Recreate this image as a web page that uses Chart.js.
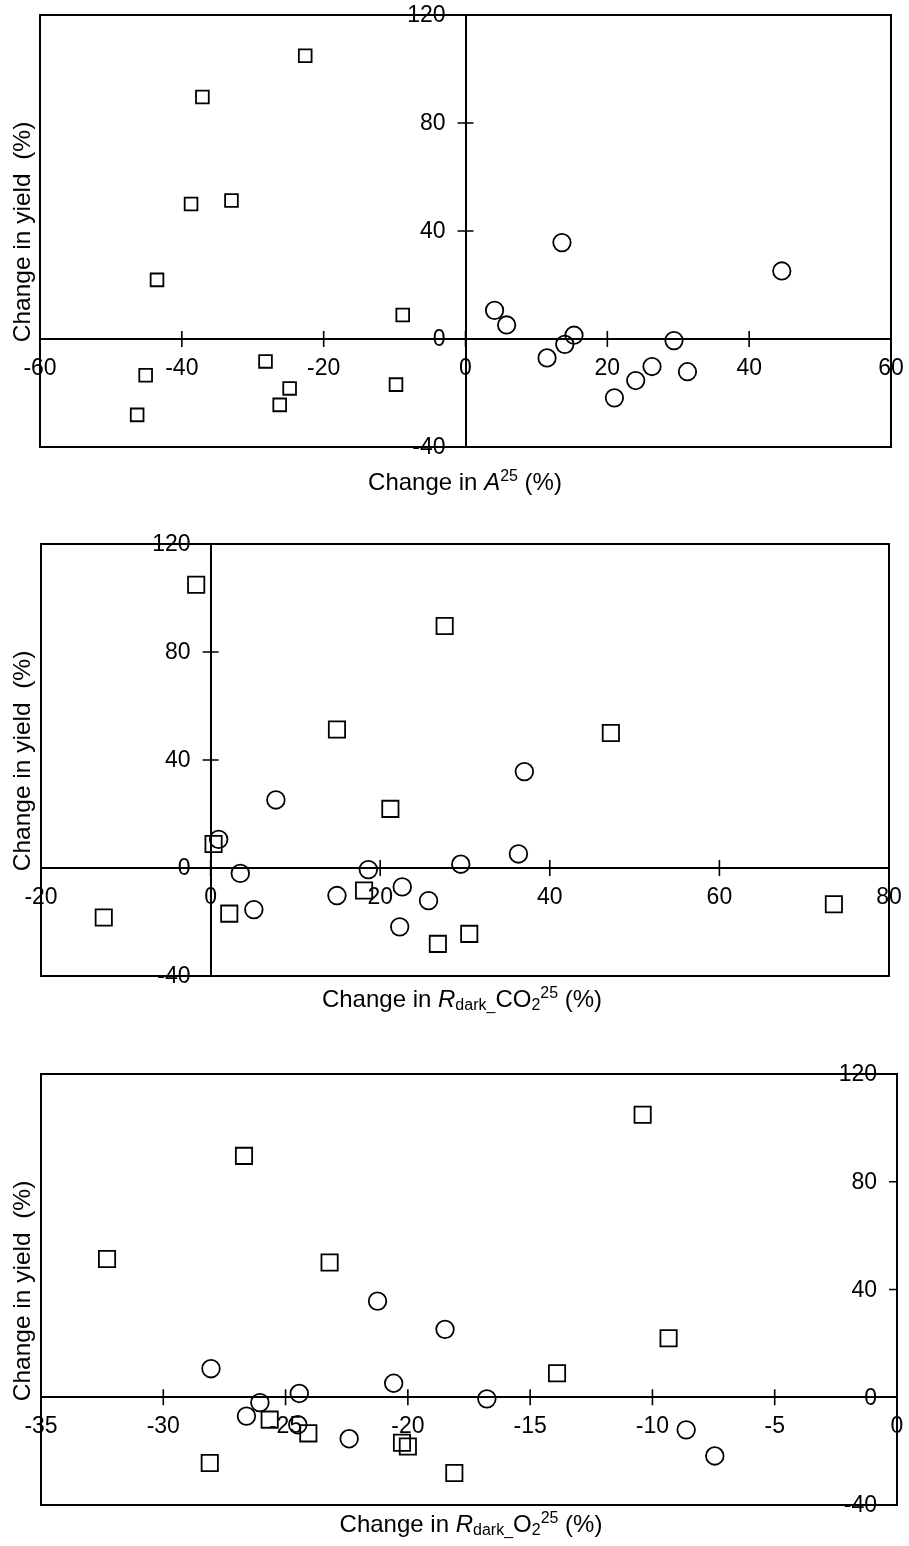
<!DOCTYPE html>
<html>
<head>
<meta charset="utf-8">
<script src="https://cdn.jsdelivr.net/npm/chart.js@4"></script>
<style>
  body { margin: 0; background: #fff; overflow: hidden; }
  #wrap { position: relative; width: 909px; height: 1546px; overflow: hidden; font-family: "Liberation Sans", Arial, sans-serif; color: #000; }
  canvas { position: absolute; left: 0; }
  .ytitle { position: absolute; left: 22px; font-size: 24.5px; white-space: pre; transform: translate(-50%, -50%) rotate(-90deg); }
  .xtitle { position: absolute; font-size: 24px; line-height: 1; white-space: nowrap; transform: translateX(-50%); }
  .xtitle sub { font-size: 16px; vertical-align: -3px; }
  .xtitle sup { font-size: 16px; vertical-align: 9px; }
</style>
</head>
<body>
<div id="wrap">
  <canvas id="c1" width="931" height="512" style="top:-25px"></canvas>
  <canvas id="c2" width="929" height="512" style="top:504px"></canvas>
  <canvas id="c3" width="937" height="511" style="top:1034px"></canvas>

  <div class="ytitle" style="top:232px">Change in yield  (%)</div>
  <div class="ytitle" style="top:761px">Change in yield  (%)</div>
  <div class="ytitle" style="top:1291px">Change in yield  (%)</div>

  <div class="xtitle" style="left:465px; top:468px">Change in <i>A</i><sup>25</sup> (%)</div>
  <div class="xtitle" style="left:462px; top:985px">Change in <i>R</i><sub>dark_</sub>CO<sub>2</sub><sup>25</sup> (%)</div>
  <div class="xtitle" style="left:471px; top:1510px">Change in <i>R</i><sub>dark_</sub>O<sub>2</sub><sup>25</sup> (%)</div>
</div>
<script>
// Rendimento (eixo y) dos dois grupos
const yieldSquares = [104.9, 89.6, 51.3, 50.0, 21.9, 8.9, -8.3, -13.4, -16.9, -18.3, -24.4, -28.1];
const yieldCircles = [35.7, 25.2, 10.6, 5.2, 1.4, -0.6, -2.0, -7.0, -10.2, -12.1, -15.4, -21.8];

// Variação em A25 (%)
const aSquares = [-22.6, -37.1, -33.0, -38.7, -43.5, -8.85, -28.2, -45.1, -9.8, -24.8, -26.2, -46.3];
const aCircles = [13.6, 44.6, 4.1, 5.8, 15.3, 29.4, 14.0, 11.5, 26.3, 31.3, 24.0, 21.0];

// Variação em Rdark_CO2 25 (%)
const rco2Squares = [-1.7, 27.6, 14.9, 47.2, 21.2, 0.35, 18.1, 73.5, 2.2, -12.6, 30.5, 26.8];
const rco2Circles = [37.0, 7.7, 0.95, 36.3, 29.5, 18.6, 3.5, 22.6, 14.9, 25.7, 5.1, 22.3];

// Variação em Rdark_O2 25 (%)
const ro2Squares = [-10.4, -26.7, -32.3, -23.2, -9.34, -13.9, -25.65, -24.07, -20.24, -20.0, -28.1, -18.1];
const ro2Circles = [-21.24, -18.48, -28.05, -20.58, -24.44, -16.77, -26.05, -26.6, -24.5, -8.62, -22.4, -7.45];

// Ticks
const yTicks = [-40, 0, 40, 80, 120];
const xTicksA = [-60, -40, -20, 0, 20, 40, 60];
const xTicksRco2 = [-20, 0, 20, 40, 60, 80];
const xTicksRo2 = [-35, -30, -25, -20, -15, -10, -5, 0];

const tickFont = { family: 'Liberation Sans', size: 23 };

// Moldura, marcas de escala cruzando os eixos e rótulos do eixo y
const frameTicks = {
  id: 'frameTicks',
  afterDraw(chart, args, opts) {
    const { ctx, chartArea, scales: { x, y } } = chart;
    const x0 = x.getPixelForValue(0);
    const y0 = y.getPixelForValue(0);
    ctx.save();
    ctx.strokeStyle = '#000';
    ctx.lineWidth = 1.6;
    ctx.beginPath();
    x.ticks.forEach(t => {
      const px = x.getPixelForValue(t.value);
      ctx.moveTo(px, y0 - 8);
      ctx.lineTo(px, y0 + 8);
    });
    y.ticks.forEach(t => {
      const py = y.getPixelForValue(t.value);
      ctx.moveTo(x0 - 8, py);
      ctx.lineTo(x0 + opts.yRight, py);
    });
    ctx.stroke();
    ctx.lineWidth = 2;
    ctx.strokeRect(chartArea.left, chartArea.top, chartArea.width, chartArea.height);

    // rótulos do eixo y, à esquerda do eixo
    ctx.fillStyle = '#000';
    ctx.font = tickFont.size + 'px "' + tickFont.family + '"';
    ctx.textAlign = 'right';
    ctx.textBaseline = 'middle';
    y.ticks.forEach(t => {
      ctx.fillText(String(t.value), x0 - 20, y.getPixelForValue(t.value) + 1);
    });
    ctx.restore();
  }
};

function toPoints(xs, ys) {
  return xs.map((v, i) => ({ x: v, y: ys[i] }));
}

function makeChart(id, sqX, ciX, xTicks, padding, sqRadius, ciRadius, yRight) {
  const axisBase = (ticks) => ({
    type: 'linear',
    min: ticks[0],
    max: ticks[ticks.length - 1],
    afterBuildTicks: scale => { scale.ticks = ticks.map(v => ({ value: v })); },
    grid: { display: false, drawTicks: false, tickLength: 0 },
    border: { display: true, color: '#000', width: 2 }
  });

  new Chart(document.getElementById(id), {
    type: 'scatter',
    data: {
      datasets: [
        {
          data: toPoints(sqX, yieldSquares),
          pointStyle: 'rect',
          pointRadius: sqRadius,
          pointHoverRadius: sqRadius,
          borderColor: '#000',
          backgroundColor: 'rgba(0,0,0,0)',
          borderWidth: 1.8
        },
        {
          data: toPoints(ciX, yieldCircles),
          pointStyle: 'circle',
          pointRadius: ciRadius,
          pointHoverRadius: ciRadius,
          borderColor: '#000',
          backgroundColor: 'rgba(0,0,0,0)',
          borderWidth: 1.8
        }
      ]
    },
    options: {
      responsive: false,
      animation: false,
      devicePixelRatio: 1,
      layout: { padding },
      clip: false,
      plugins: {
        legend: { display: false },
        tooltip: { enabled: false },
        frameTicks: { yRight }
      },
      scales: {
        x: Object.assign(axisBase(xTicks), {
          position: { y: 0 },
          ticks: { font: tickFont, color: '#000', padding: 16, maxRotation: 0, autoSkip: false }
        }),
        y: Object.assign(axisBase(yTicks), {
          position: { x: 0 },
          ticks: { display: false }
        })
      }
    },
    plugins: [frameTicks]
  });
}

makeChart('c1', aSquares, aCircles, xTicksA, { left: 40, top: 40, right: 40, bottom: 40 }, 9, 8.7, 8);
makeChart('c2', rco2Squares, rco2Circles, xTicksRco2, { left: 41, top: 40, right: 40, bottom: 40 }, 11.5, 8.8, 8);
makeChart('c3', ro2Squares, ro2Circles, xTicksRo2, { left: 41, top: 40, right: 40, bottom: 40 }, 11.5, 8.8, 0);
</script>
</body>
</html>
